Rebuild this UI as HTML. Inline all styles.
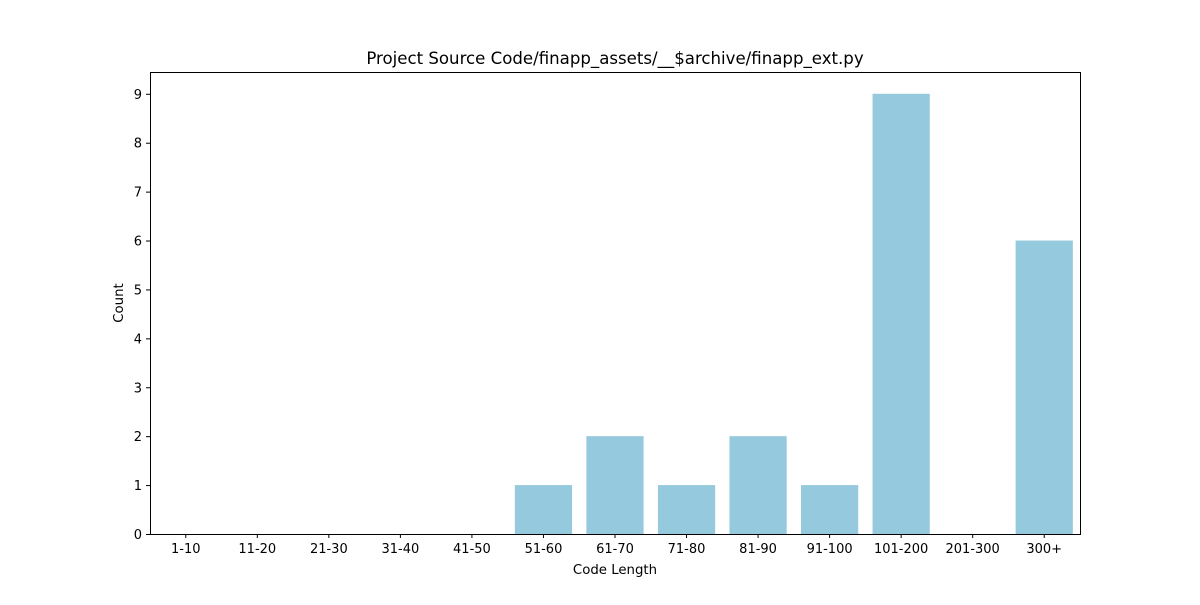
<!DOCTYPE html>
<html><head><meta charset="utf-8"><style>
body{margin:0;background:#fff;}
svg text{font-family:"DejaVu Sans","Liberation Sans",sans-serif;fill:#000;}
</style></head><body>
<svg width="1200" height="600" xmlns="http://www.w3.org/2000/svg">
<rect width="1200" height="600" fill="#fff"/>
<text x="615" y="64" font-size="16.6" text-anchor="middle">Project Source Code/finapp_assets/__$archive/finapp_ext.py</text>
<g id="bars"></g>
<g id="xticks"></g>
<g id="yticks"></g>
<rect x="150.5" y="72.5" width="930" height="462" fill="none" stroke="#000" stroke-width="1"/>
<text x="615" y="574" font-size="13.3" text-anchor="middle">Code Length</text>
<text transform="translate(123,303) rotate(-90)" font-size="13.3" text-anchor="middle">Count</text>
</svg>
<script>
const categories=["1-10","11-20","21-30","31-40","41-50","51-60","61-70","71-80","81-90","91-100","101-200","201-300","300+"];
const counts=[0,0,0,0,0,1,2,1,2,1,9,0,6];
const yTicks=[0,1,2,3,4,5,6,7,8,9];
const NS="http://www.w3.org/2000/svg";
const L=150,R=1080,T=72,B=534,yMax=9.4455;
const band=(R-L)/categories.length;
const x=i=>L+band*(i+0.5);
const y=v=>B-(v/yMax)*(B-T);
const bars=document.getElementById('bars'),xt=document.getElementById('xticks'),yt=document.getElementById('yticks');
function mk(t,a){const e=document.createElementNS(NS,t);for(const k in a)e.setAttribute(k,a[k]);return e;}
categories.forEach((c,i)=>{
  const w=band*0.8;
  const r=mk('rect',{x:x(i)-w/2,y:y(counts[i]),width:w,height:B-y(counts[i]),fill:'#95c9de'});
  
  
  bars.appendChild(r);
  const tk=mk('line',{x1:x(i),x2:x(i),y1:B,y2:B+4,stroke:'#000'});
  
  
  xt.appendChild(tk);
  const tl=mk('text',{x:x(i),y:B+19,'font-size':13,'text-anchor':'middle'});
  tl.textContent=c;
  
  
  xt.appendChild(tl);
});
yTicks.forEach(v=>{
  const tk=mk('line',{x1:L-4,x2:L,y1:y(v)+0.5,y2:y(v)+0.5,stroke:'#000'});
  
  
  yt.appendChild(tk);
  const tl=mk('text',{x:L-8,y:y(v)+5,'font-size':13,'text-anchor':'end'});
  tl.textContent=v;
  
  
  yt.appendChild(tl);
});
</script>
</body></html>
